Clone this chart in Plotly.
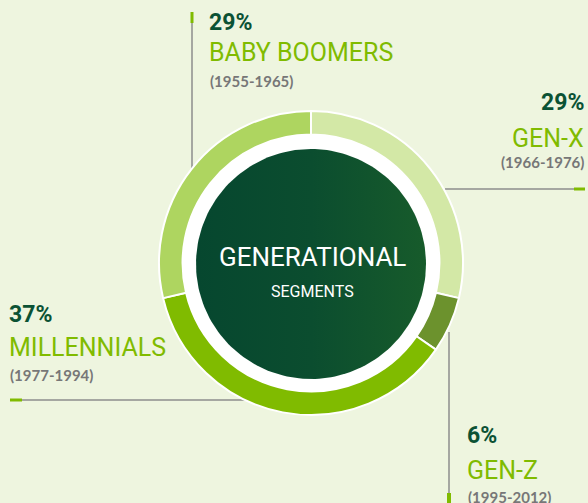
import numpy as np
import plotly.graph_objects as go

# ---- data ----
segments = ["GEN-X", "GEN-Z", "MILLENNIALS", "BABY BOOMERS"]
shares = [29, 6, 37, 29]
years = ["(1966-1976)", "(1995-2012)", "(1977-1994)", "(1955-1965)"]
colors = ["#d3e8a6", "#6c922d", "#80bb00", "#aed560"]

W, H = 588, 503
BG = "#eef5df"
CX, CY, R = 311, 263, 152
COND = "Roboto, sans-serif"
DATEF = "Lato, Open Sans, sans-serif"

fig = go.Figure()
fig.add_trace(go.Pie(
    labels=segments, values=shares, sort=False, direction="clockwise",
    rotation=0, hole=0.845,
    marker=dict(colors=colors, line=dict(color="white", width=2)),
    textinfo="none", hoverinfo="label+percent", showlegend=False,
    domain=dict(x=[(CX - R) / W, (CX + R) / W], y=[(H - CY - R) / H, (H - CY + R) / H]),
))

# decorative dark centre disc with a soft gradient
t = np.linspace(0, 2 * np.pi, 181)
fig.add_trace(go.Scatter(
    x=CX + 115 * np.cos(t), y=CY + 1 + 115 * np.sin(t), mode="lines",
    line=dict(width=0, color="#0c4d2f"), fill="toself",
    fillgradient=dict(type="horizontal", colorscale=[[0, "#06472f"], [0.5, "#0b4d2f"], [1, "#175b2b"]]),
    hoverinfo="skip", showlegend=False,
))

shapes = []
shapes.append(dict(type="circle", xref="x", yref="y", x0=CX - 129, x1=CX + 129, y0=CY - 129, y1=CY + 129,
                   fillcolor="white", line=dict(width=0), layer="below"))

gray = "#8c8c8c"
green = "#80bb00"
def seg(x0, y0, x1, y1, c=gray, w=1.5):
    shapes.append(dict(type="line", xref="x", yref="y", x0=x0, y0=y0, x1=x1, y1=y1,
                       line=dict(color=c, width=w), layer="below"))

# leader lines
seg(192, 12, 192, 168)           # baby boomers
seg(192, 12, 192, 23, green, 3)
seg(445, 189, 585, 189)          # gen-x
seg(574, 189, 585, 189, green, 3)
seg(10, 400, 245, 400)           # millennials
seg(10, 400, 22, 400, green, 3)
seg(449, 332, 449, 503)          # gen-z
seg(449, 493, 449, 503, green, 4)

fig.update_layout(shapes=shapes)

anns = []
def txt(x, y, s, size, color, family, anchor="left", bold=False):
    anns.append(dict(xref="x", yref="y", x=x, y=y, text=(f"<b>{s}</b>" if bold else s), showarrow=False,
                     xanchor=anchor, yanchor="middle",
                     font=dict(size=size, color=color, family=family)))

dark = "#0b5234"
label_pos = {
    "GEN-X": (586, 102, 138, 162, "right"),
    "GEN-Z": (465, 435, 470, 497, "left"),
    "MILLENNIALS": (7, 314, 347, 375, "left"),
    "BABY BOOMERS": (207, 22, 52, 81, "left"),
}
for name, share, yr in zip(segments, shares, years):
    x, yp, yn, yy, anc = label_pos[name]
    txt(x, yp, f"{share}%", 23, dark, COND, anc, True)
    txt(x, yn, name, 25, green, COND, anc)
    txt(x + (1 if anc == "left" else 0), yy, yr, 15, "#777777", DATEF, anc, True)

anns.append(dict(xref="x", yref="y", x=CX + 1, y=257, text="GENERATIONAL", showarrow=False,
                 xanchor="center", yanchor="middle", font=dict(size=26, color="white", family=COND)))
anns.append(dict(xref="x", yref="y", x=CX + 1, y=291, text="SEGMENTS", showarrow=False,
                 xanchor="center", yanchor="middle", font=dict(size=16, color="white", family=COND)))
fig.update_layout(annotations=anns)

fig.update_layout(
    width=W, height=H, margin=dict(l=0, r=0, t=0, b=0),
    paper_bgcolor=BG, plot_bgcolor="rgba(0,0,0,0)",
    xaxis=dict(range=[0, W], visible=False, fixedrange=True),
    yaxis=dict(range=[H, 0], visible=False, fixedrange=True),
)
fig.write_html("out.html", config={"displayModeBar": False},
               post_script="document.body.style.margin='0';document.body.style.background='%s';" % BG)
